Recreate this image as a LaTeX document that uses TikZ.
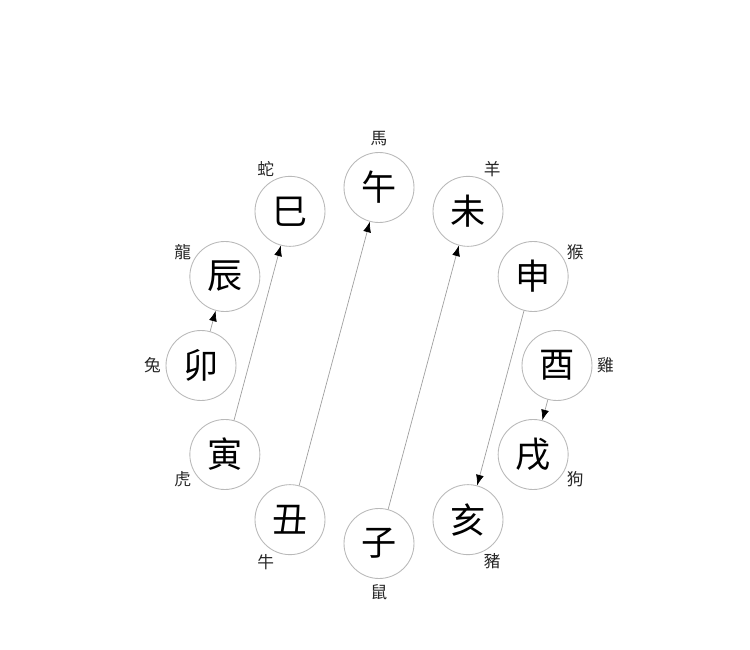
\documentclass[tikz,border=0pt]{standalone}
\usepackage{fontspec}
\newfontfamily\cjk{Noto Sans CJK TC}
\usetikzlibrary{arrows.meta, positioning}
\tikzstyle{branch} = [circle, draw=gray!55, line width=0.5pt, minimum size=1.4cm, inner sep=0pt, font=\cjk\fontsize{20}{20}\selectfont]
\tikzstyle{animal} = [inner sep=0pt, font=\cjk\fontsize{9.5}{9.5}\selectfont, text=black!85]
\tikzstyle{arrow} = [gray!75, line width=0.4pt, -{Latex[black,length=6pt,width=4.5pt]}]

\begin{document}
\begin{tikzpicture}
  \useasboundingbox (0,0) rectangle (15,12.98);

  \begin{scope}[shift={(7.58,5.67)}]
    % Draw the twelve branches with their animals
    \foreach \ang/\nm/\ch/\an in {90/wu/午/馬, 60/wei/未/羊, 30/shen/申/猴, 0/you/酉/雞,
        -30/xu/戌/狗, -60/hai/亥/豬, -90/zi/子/鼠, -120/chou/丑/牛,
        -150/yin/寅/虎, 180/mao/卯/兔, 150/chen/辰/龍, 120/si/巳/蛇}{
      \node[branch] (\nm) at (\ang:3.56) {\ch};
      \node[animal] (\nm-a) at (\ang:4.53) {\an};
    }
  \end{scope}

  % Draw the arrows between branches
  \draw[arrow] (mao) -- (chen);
  \draw[arrow] (yin) -- (si);
  \draw[arrow] (chou) -- (wu);
  \draw[arrow] (zi) -- (wei);
  \draw[arrow] (shen) -- (hai);
  \draw[arrow] (you) -- (xu);
\end{tikzpicture}
\end{document}
